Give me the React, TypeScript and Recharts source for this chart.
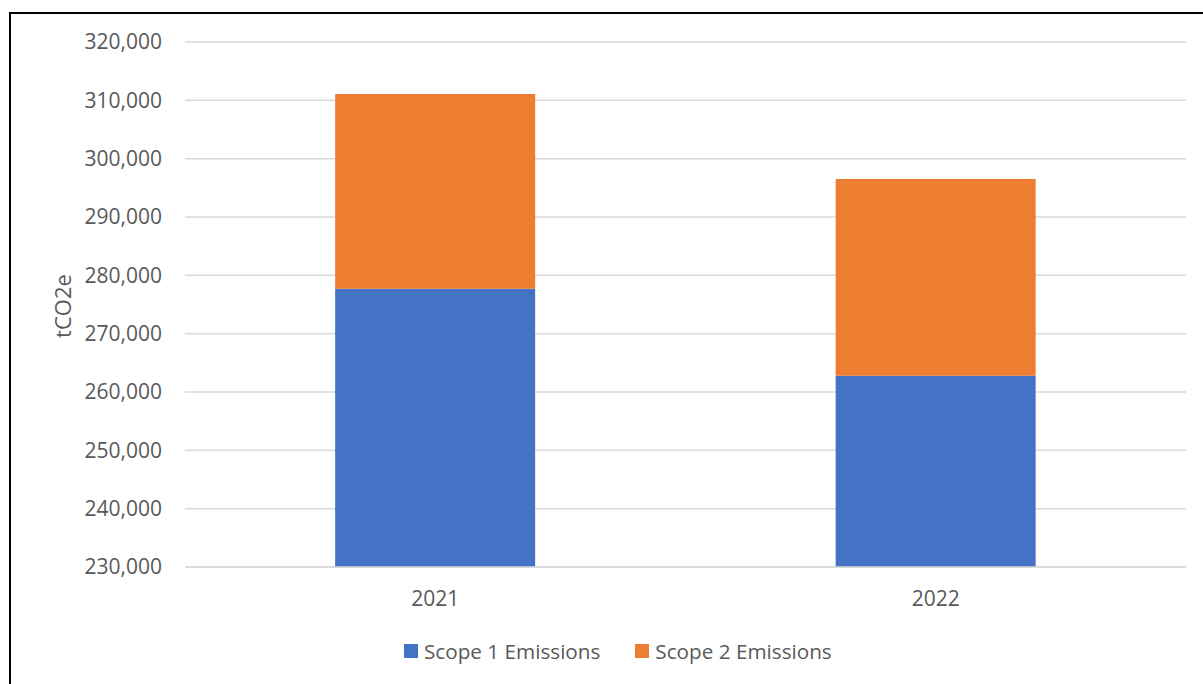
import { BarChart, Bar, XAxis, YAxis, CartesianGrid, Legend } from 'recharts'

const years = ['2021', '2022']
const scope1 = [277700, 262800]
const scope2 = [33400, 33700]
const yTicks = [230000, 240000, 250000, 260000, 270000, 280000, 290000, 300000, 310000, 320000]

const data = years.map((year, i) => ({ year, scope1: scope1[i], scope2: scope2[i] }))

const FONT = '"Open Sans", sans-serif'
const TEXT = '#595959'

function LegendContent({ payload }: any) {
  return (
    <div style={{ display: 'flex', fontFamily: FONT, fontSize: 20.7, color: TEXT }}>
      {(payload || []).map((p: any) => (
        <div key={p.value} style={{ display: 'flex', alignItems: 'center', marginRight: 35 }}>
          <span style={{ width: 14, height: 14, background: p.color, marginRight: 6, display: 'inline-block' }} />
          <span>{p.value}</span>
        </div>
      ))}
    </div>
  )
}

function YLabel() {
  return (
    <text x={62} y={306} transform="rotate(-90 62 306)" textAnchor="middle" dominantBaseline="central"
      fill={TEXT} fontFamily={FONT} fontSize={22}>
      tCO2e
    </text>
  )
}

export default function App() {
  return (
    <div style={{ position: 'absolute', left: 0, top: 0, width: 1203, height: 684, overflow: 'hidden', background: '#fff' }}>
      <div style={{ position: 'absolute', left: 9, top: 12, width: 1300, height: 800, border: '2px solid #000', boxSizing: 'border-box' }} />
      <div style={{ position: 'absolute', left: 0, top: 0 }}>
        <BarChart width={1203} height={684} data={data} barCategoryGap="30%"
          margin={{ top: 42, right: 17, left: 0, bottom: 59 }}>
          <CartesianGrid vertical={false} stroke="#d9d9d9" strokeWidth={1.5} />
          <XAxis dataKey="year" axisLine={{ stroke: '#d9d9d9', strokeWidth: 1.5 }} tickLine={false}
            tickSize={0} tickMargin={24} tick={{ fill: TEXT, fontFamily: FONT, fontSize: 21 }} />
          <YAxis width={185} domain={[230000, 320000]} ticks={yTicks} allowDataOverflow axisLine={false}
            tickLine={false} tickSize={0} tickMargin={23}
            tickFormatter={(v: number) => v.toLocaleString('en-US')}
            tick={{ fill: TEXT, fontFamily: FONT, fontSize: 21 }}
            label={<YLabel />} />
          <Bar dataKey="scope1" name="Scope 1 Emissions" stackId="a" fill="#4472c4" isAnimationActive={false} />
          <Bar dataKey="scope2" name="Scope 2 Emissions" stackId="a" fill="#ed7d31" isAnimationActive={false} />
          <Legend content={<LegendContent />} wrapperStyle={{ left: 404, top: 637, width: 'auto' }} />
        </BarChart>
      </div>
    </div>
  )
}
